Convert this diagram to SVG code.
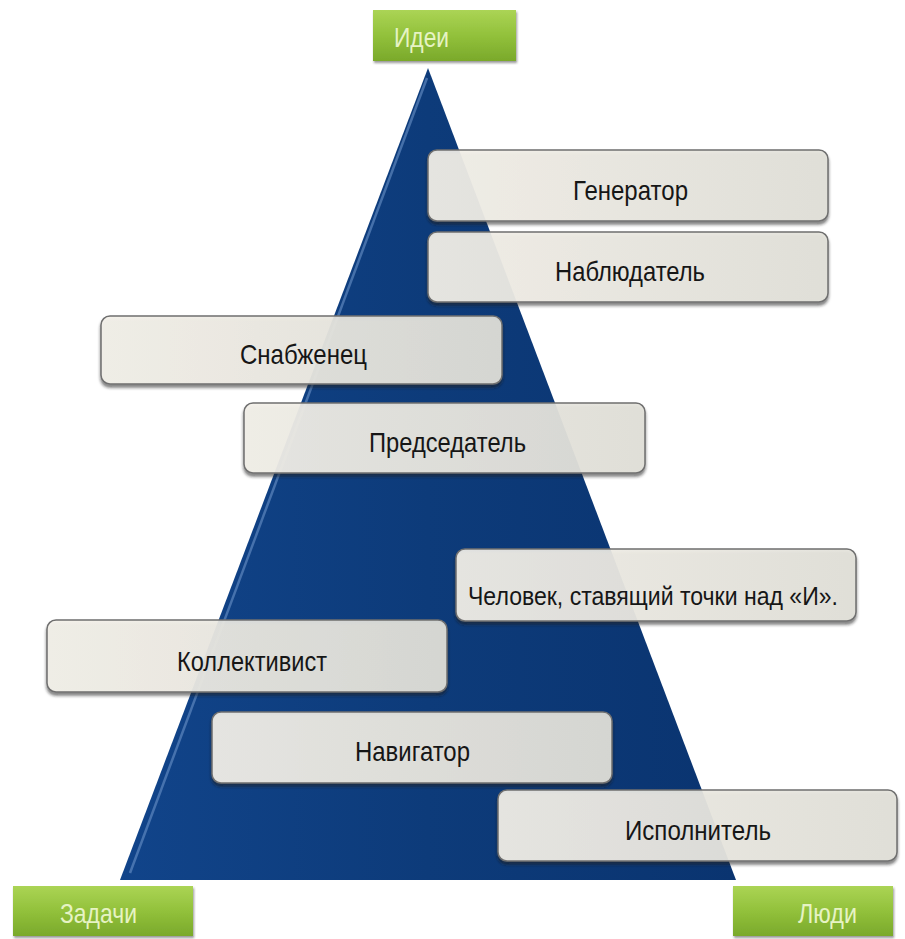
<svg xmlns="http://www.w3.org/2000/svg" width="905" height="939" viewBox="0 0 905 939">
<defs>
<linearGradient id="tri" x1="0" y1="0" x2="1" y2="0">
<stop offset="0" stop-color="#11448a"/>
<stop offset="0.5" stop-color="#0d3b7a"/>
<stop offset="1" stop-color="#0a3470"/>
</linearGradient>
<linearGradient id="box" x1="0" y1="0" x2="1" y2="0">
<stop offset="0" stop-color="#f5f2eb"/>
<stop offset="1" stop-color="#e4e3db"/>
</linearGradient>
<linearGradient id="green" x1="0" y1="0" x2="0" y2="1">
<stop offset="0" stop-color="#abd455"/>
<stop offset="0.5" stop-color="#92c13b"/>
<stop offset="1" stop-color="#7aa92b"/>
</linearGradient>
<filter id="sh" x="-5%" y="-10%" width="110%" height="130%">
<feDropShadow dx="0" dy="3" stdDeviation="1.5" flood-color="#222" flood-opacity="0.6"/>
</filter>
<filter id="gsh" x="-5%" y="-10%" width="110%" height="130%">
<feDropShadow dx="1" dy="2" stdDeviation="1.2" flood-color="#333" flood-opacity="0.5"/>
</filter>
</defs>
<style>
.b{fill:url(#box);fill-opacity:0.9;stroke:#6f6f6f;stroke-width:1.5;filter:url(#sh)}
.g{fill:url(#green);filter:url(#gsh)}
.t{font-family:"Liberation Sans",Arial,sans-serif;font-size:28px;fill:#161616}
.gt{font-family:"Liberation Sans",Arial,sans-serif;font-size:28px;fill:#e6f3c4}
</style>
<rect width="905" height="939" fill="#ffffff"/>
<g id="pyramid">
<polygon points="428,68 120,880 736,880" fill="url(#tri)"/>
<polyline points="427,78 130,873" fill="none" stroke="#6a92c8" stroke-width="2.5" opacity="0.6"/>
</g>
<g id="connectors"></g>
<g id="ideas"><rect class="g" x="373" y="10" width="143" height="51"/><text class="gt" x="394" y="47" textLength="55" lengthAdjust="spacingAndGlyphs">Идеи</text></g>
<g id="tasks"><rect class="g" x="13" y="886" width="180" height="50"/><text class="gt" x="60" y="923" textLength="77" lengthAdjust="spacingAndGlyphs">Задачи</text></g>
<g id="people"><rect class="g" x="733" y="886" width="160" height="50"/><text class="gt" x="798" y="923" textLength="59" lengthAdjust="spacingAndGlyphs">Люди</text></g>
<g id="generator"><rect class="b" x="428" y="150" width="400" height="71" rx="9"/><text class="t" x="573" y="200" textLength="115" lengthAdjust="spacingAndGlyphs">Генератор</text></g>
<g id="observer"><rect class="b" x="428" y="232" width="400" height="70" rx="9"/><text class="t" x="555" y="281" textLength="150" lengthAdjust="spacingAndGlyphs">Наблюдатель</text></g>
<g id="supplier"><rect class="b" x="101" y="316" width="401" height="68" rx="9"/><text class="t" x="240" y="364" textLength="127" lengthAdjust="spacingAndGlyphs">Снабженец</text></g>
<g id="chairman"><rect class="b" x="244" y="403" width="401" height="70" rx="9"/><text class="t" x="369" y="452" textLength="157" lengthAdjust="spacingAndGlyphs">Председатель</text></g>
<g id="finisher"><rect class="b" x="456" y="549" width="400" height="72" rx="9"/><text class="t" x="468" y="605" style="font-size:26px" textLength="370" lengthAdjust="spacingAndGlyphs">Человек, ставящий точки над «И».</text></g>
<g id="collectivist"><rect class="b" x="47" y="620" width="400" height="72" rx="9"/><text class="t" x="177" y="671" textLength="150" lengthAdjust="spacingAndGlyphs">Коллективист</text></g>
<g id="navigator"><rect class="b" x="212" y="712" width="400" height="71" rx="9"/><text class="t" x="355" y="761" textLength="115" lengthAdjust="spacingAndGlyphs">Навигатор</text></g>
<g id="executor"><rect class="b" x="498" y="790" width="399" height="71" rx="9"/><text class="t" x="625" y="840" textLength="146" lengthAdjust="spacingAndGlyphs">Исполнитель</text></g>
</svg>
